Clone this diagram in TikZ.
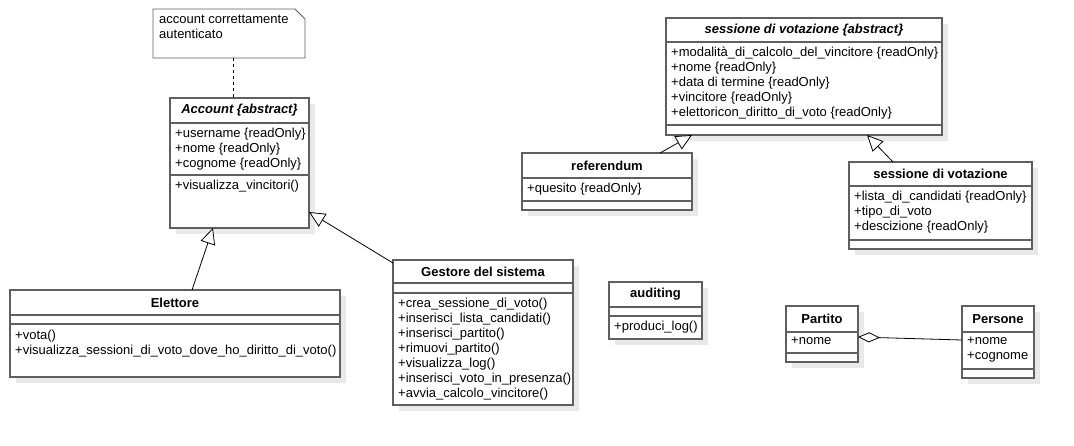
\documentclass[tikz,border=0pt]{standalone}
\usepackage{fontspec}
\setmainfont{Liberation Sans}
\usetikzlibrary{arrows.meta,shadows}

\definecolor{bordo}{HTML}{5F5F5F}
\definecolor{ombra}{HTML}{E9E9E9}

\tikzset{
  stile uml/.style={
      x=1pt, y=-1pt,
      every node/.style={font={\fontsize{13pt}{15pt}\selectfont}},
      classe/.style={draw=bordo, line width=1.6pt, fill=white, anchor=north west,
          inner sep=0pt, outer sep=0pt,
          drop shadow={shadow xshift=6pt, shadow yshift=-6pt, fill=ombra, opacity=1}},
      titolo/.style={font={\fontsize{13pt}{15pt}\selectfont\bfseries}},
      membri/.style={anchor=north west, align=left, inner sep=0pt},
      separa/.style={draw=bordo, line width=1.6pt},
      eredita/.style={-{Triangle[open, length=16pt, width=15pt, fill=white]}, line width=0.8pt},
    },
}

% nome, posizione, larghezza, altezza, riga titolo, riga attributi, titolo
\newcommand{\classe}[7]{%
  \node[classe, minimum width=#3pt, minimum height=#4pt] (#1) at (#2) {};
  \node[titolo] (#1-t) at ([yshift=-#5pt/2]#1.north) {#7};
  \draw[separa] ([yshift=-#5pt]#1.north west) -- ([yshift=-#5pt]#1.north east);
  \draw[separa] ([yshift=-#6pt]#1.north west) -- ([yshift=-#6pt]#1.north east);
}

\begin{document}
\begin{tikzpicture}[stile uml]
  \useasboundingbox (0,0) rectangle (1074,445);

  % nota
  \node[minimum width=152pt, minimum height=49pt, anchor=north west, inner sep=0pt, outer sep=0pt] (nota) at (153,9) {};
  \draw[draw=bordo, fill=white, line width=0.8pt] (nota.north west) -- ([xshift=-10pt]nota.north east)
      -- ([yshift=-10pt]nota.north east) -- (nota.south east) -- (nota.south west) -- cycle;
  \node[membri] (nota-testo) at ([shift={(6,6)}]nota.north west) {account correttamente\\autenticato};

  % classi
  \classe{acc}{170,98}{139}{130}{25}{77}{\itshape Account \{abstract\}}
  \classe{ele}{10,290}{330}{87}{25}{34}{Elettore}
  \classe{ges}{393,260}{180}{145}{23}{33}{Gestore del sistema}
  \classe{ses}{666,18}{276}{117}{24}{107}{\itshape sessione di votazione \{abstract\}}
  \classe{ref}{522,153}{170}{57}{25}{48}{referendum}
  \classe{sv}{849,162}{183}{87}{24}{78}{sessione di votazione}
  \classe{aud}{609,282}{93}{57}{25}{34}{auditing}
  \classe{par}{786,306}{72}{56}{26}{47}{Partito}
  \classe{per}{962,306}{72}{72}{26}{63}{Persone}

  \node[membri] (acc-a) at ([shift={(5,30)}]acc.north west) {+username \{readOnly\}\\+nome \{readOnly\}\\+cognome \{readOnly\}};
  \node[membri] (acc-m) at ([shift={(5,82)}]acc.north west) {+visualizza\_vincitori()};
  \node[membri] (ele-m) at ([shift={(5,40)}]ele.north west) {+vota()\\+visualizza\_sessioni\_di\_voto\_dove\_ho\_diritto\_di\_voto()};
  \node[membri] (ges-m) at ([shift={(5,38)}]ges.north west) {+crea\_sessione\_di\_voto()\\+inserisci\_lista\_candidati()\\+inserisci\_partito()\\+rimuovi\_partito()\\+visualizza\_log()\\+inserisci\_voto\_in\_presenza()\\+avvia\_calcolo\_vincitore()};
  \node[membri] (ses-a) at ([shift={(5,29)}]ses.north west) {+modalità\_di\_calcolo\_del\_vincitore \{readOnly\}\\+nome \{readOnly\}\\+data di termine \{readOnly\}\\+vincitore \{readOnly\}\\+elettoricon\_diritto\_di\_voto \{readOnly\}};
  \node[membri] (ref-a) at ([shift={(5,30)}]ref.north west) {+quesito \{readOnly\}};
  \node[membri] (sv-a) at ([shift={(5,29)}]sv.north west) {+lista\_di\_candidati \{readOnly\}\\+tipo\_di\_voto\\+descizione \{readOnly\}};
  \node[membri] (aud-m) at ([shift={(5,39)}]aud.north west) {+produci\_log()};
  \node[membri] (par-a) at ([shift={(5,31)}]par.north west) {+nome};
  \node[membri] (per-a) at ([shift={(5,31)}]per.north west) {+nome\\+cognome};

  % relazioni
  \draw[dash pattern=on 3pt off 3pt, line width=0.8pt] ([xshift=80pt]nota.south west) -- ([xshift=63pt]acc.north west);
  \draw[eredita] ([xshift=182pt]ele.north west) -- ([xshift=43pt]acc.south west);
  \draw[eredita] ([yshift=-3pt]ges.north west) -- ([yshift=16pt]acc.south east);
  \draw[eredita] ([xshift=138pt]ref.north west) -- ([xshift=26pt]ses.south west);
  \draw[eredita] ([xshift=44pt]sv.north west) -- ([xshift=201pt]ses.south west);
  \draw[{Diamond[open, length=22pt, width=10pt, fill=white]}-, line width=0.8pt] ([yshift=-3pt]par.east) -- ([yshift=2pt]per.west);
\end{tikzpicture}
\end{document}
